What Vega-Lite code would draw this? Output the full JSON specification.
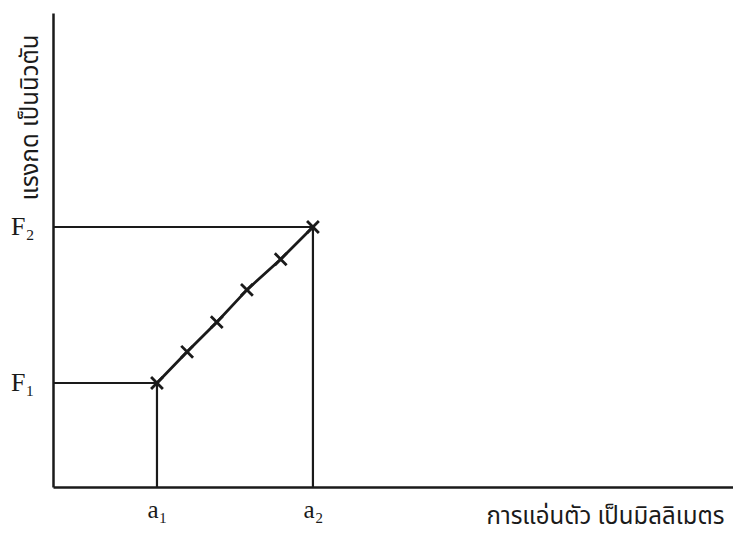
{
  "$schema": "https://vega.github.io/schema/vega-lite/v6.json",
  "autosize": "none",
  "width": 680,
  "height": 474,
  "padding": {"left": 53, "top": 13, "right": 0, "bottom": 46},
  "background": "white",
  "config": {
    "view": {"stroke": null},
    "axis": {"grid": false, "ticks": false, "domainColor": "#1a1a1a", "domainWidth": 2.5}
  },
  "datasets": {
    "guides": [
      {"x0": 0, "x1": 2, "y0": 2, "y1": 2},
      {"x0": 0, "x1": 5, "y0": 5, "y1": 5},
      {"x0": 2, "x1": 2, "y0": 0, "y1": 2},
      {"x0": 5, "x1": 5, "y0": 0, "y1": 5}
    ],
    "points": [
      {"a": 2.0, "f": 2.0},
      {"a": 2.58, "f": 2.6},
      {"a": 3.15, "f": 3.17},
      {"a": 3.73, "f": 3.79},
      {"a": 4.38, "f": 4.38},
      {"a": 5.0, "f": 5.0}
    ]
  },
  "layer": [
    {
      "data": {"name": "guides"},
      "mark": {"type": "rule", "color": "#1a1a1a", "strokeWidth": 2.2},
      "encoding": {
        "x": {
          "field": "x0", "type": "quantitative",
          "scale": {"domain": [0, 13.08], "nice": false, "zero": false},
          "axis": {
            "values": [2, 5],
            "labelExpr": "datum.value == 2 ? 'a₁' : 'a₂'",
            "labelFont": "Liberation Serif, DejaVu Serif, serif",
            "labelFontSize": 25,
            "labelColor": "#1a1a1a",
            "labelPadding": 22,
            "labelBaseline": "middle",
            "title": "การแอ่นตัว เป็นมิลลิเมตร",
            "titleFont": "Noto Sans Thai, Loma, Garuda, sans-serif",
            "titleFontWeight": "normal",
            "titleFontSize": 24,
            "titleColor": "#1a1a1a",
            "titleX": 552,
            "titleY": 29,
            "titleAlign": "center",
            "titleBaseline": "middle"
          }
        },
        "x2": {"field": "x1"},
        "y": {
          "field": "y0", "type": "quantitative",
          "scale": {"domain": [0, 9.115], "nice": false, "zero": false},
          "axis": {
            "values": [2, 5],
            "labelExpr": "datum.value == 2 ? 'F₁' : 'F₂'",
            "labelFont": "Liberation Serif, DejaVu Serif, serif",
            "labelFontSize": 26,
            "labelColor": "#1a1a1a",
            "labelPadding": 19,
            "labelBaseline": "middle",
            "title": "แรงกด เป็นนิวตัน",
            "titleFont": "Noto Sans Thai, Loma, Garuda, sans-serif",
            "titleFontWeight": "normal",
            "titleFontSize": 24,
            "titleColor": "#1a1a1a",
            "titleAngle": -90,
            "titleX": -23,
            "titleY": 104,
            "titleAlign": "center",
            "titleBaseline": "middle"
          }
        },
        "y2": {"field": "y1"}
      }
    },
    {
      "data": {"name": "points"},
      "mark": {"type": "line", "color": "#1a1a1a", "strokeWidth": 2.8},
      "encoding": {
        "x": {"field": "a", "type": "quantitative"},
        "y": {"field": "f", "type": "quantitative"}
      }
    },
    {
      "data": {"name": "points"},
      "mark": {"type": "point", "shape": "M-1,-1L1,1M-1,1L1,-1", "filled": false, "color": "#1a1a1a", "strokeWidth": 2.8, "size": 140, "opacity": 1},
      "encoding": {
        "x": {"field": "a", "type": "quantitative"},
        "y": {"field": "f", "type": "quantitative"}
      }
    }
  ]
}
